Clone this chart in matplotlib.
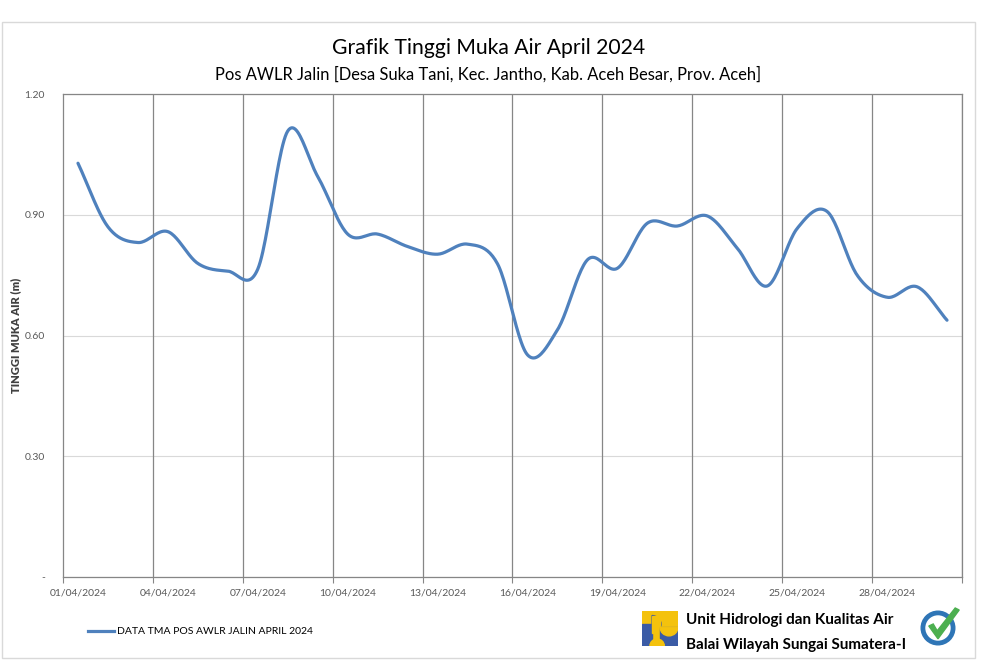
import numpy as np
import matplotlib
matplotlib.use("Agg")
import matplotlib.pyplot as plt
from matplotlib.patches import Rectangle, Circle, Wedge, Polygon
from matplotlib.lines import Line2D

# ---- data ----
dates = [f"{d:02d}/04/2024" for d in range(1, 31)]
tma = [1.028, 0.870, 0.831, 0.858, 0.779, 0.760, 0.765, 1.108, 0.995, 0.852,
       0.852, 0.821, 0.802, 0.827, 0.778, 0.552, 0.614, 0.788, 0.767, 0.879,
       0.872, 0.897, 0.817, 0.723, 0.866, 0.908, 0.750, 0.695, 0.721, 0.638]
yticks = [0.0, 0.30, 0.60, 0.90, 1.20]
ytick_labels = ["-", "0.30", "0.60", "0.90", "1.20"]
title = "Grafik Tinggi Muka Air April 2024"
subtitle = "Pos AWLR Jalin [Desa Suka Tani, Kec. Jantho, Kab. Aceh Besar, Prov. Aceh]"
ylabel = "TINGGI MUKA AIR (m)"
legend_label = "DATA TMA POS AWLR JALIN APRIL 2024"
org1 = "Unit Hidrologi dan Kualitas Air"
org2 = "Balai Wilayah Sungai Sumatera-I"

FONT = ["Lato", "DejaVu Sans"]
plt.rcParams['font.family'] = FONT

W, H = 984, 660
fig = plt.figure(figsize=(W / 100, H / 100), dpi=100)

def fx(px):
    return px / W

def fy(py):
    return 1 - py / H

# outer chart border
fig.patches.append(Rectangle((fx(2), fy(658)), fx(973), 636 / H, transform=fig.transFigure,
                             fill=False, edgecolor="#D9D9D9", linewidth=1))

ax = fig.add_axes([fx(63), fy(577), fx(899), 483 / H])

# Catmull-Rom smoothing (Excel-like smoothed line)
def catmull_rom(x, y, n=24):
    x = np.asarray(x, float); y = np.asarray(y, float)
    px = np.concatenate([[2 * x[0] - x[1]], x, [2 * x[-1] - x[-2]]])
    py = np.concatenate([[2 * y[0] - y[1]], y, [2 * y[-1] - y[-2]]])
    xs, ys = [], []
    t = np.linspace(0, 1, n, endpoint=False)
    for i in range(1, len(px) - 2):
        p0, p1, p2, p3 = py[i - 1], py[i], py[i + 1], py[i + 2]
        q0, q1, q2, q3 = px[i - 1], px[i], px[i + 1], px[i + 2]
        def cr(a0, a1, a2, a3):
            return 0.5 * ((2 * a1) + (-a0 + a2) * t + (2 * a0 - 5 * a1 + 4 * a2 - a3) * t ** 2
                          + (-a0 + 3 * a1 - 3 * a2 + a3) * t ** 3)
        xs.append(cr(q0, q1, q2, q3)); ys.append(cr(p0, p1, p2, p3))
    xs.append([x[-1]]); ys.append([y[-1]])
    return np.concatenate(xs), np.concatenate(ys)

xi = np.arange(len(tma))
sx, sy = catmull_rom(xi, tma)
ax.plot(sx, sy, color="#4F81BD", linewidth=2.3, solid_capstyle="round", zorder=3)

ax.set_xlim(-0.5, len(tma) - 0.5)
ax.set_ylim(0, 1.2)

# horizontal gridlines
ax.set_yticks(yticks)
ax.set_yticklabels(ytick_labels, fontsize=7.5, color="#595959")
ax.yaxis.grid(True, color="#D9D9D9", linewidth=0.8)
ax.tick_params(axis="y", length=0, pad=13)

# category labels every 3 days, centred on category
ax.set_xticks(xi[::3])
ax.set_xticklabels([dates[i] for i in xi[::3]], fontsize=7.5, color="#595959")
ax.tick_params(axis="x", which="major", length=0, pad=8)
# vertical gridlines at category boundaries
bounds = np.arange(-0.5, len(tma), 3)
ax.set_xticks(bounds, minor=True)
ax.tick_params(axis="x", which="minor", length=4, color="#868686", width=0.8)
for b in bounds[1:]:
    ax.axvline(b, color="#868686", linewidth=0.9, zorder=1)
ax.set_axisbelow(True)
for s in ax.spines.values():
    s.set_color("#868686")
    s.set_linewidth(0.9)

ax.set_ylabel(ylabel, fontsize=8, fontweight="heavy", color="#404040")
ax.yaxis.set_label_coords((21 - 63) / 899, 0.5)

fig.text(0.496, fy(48), title, ha="center", va="center", fontsize=15.2, color="#000000")
fig.text(0.496, fy(74), subtitle, ha="center", va="center", fontsize=11.9, color="#000000")

# legend
fig.add_artist(Line2D([fx(88), fx(114)], [fy(631), fy(631)], color="#4F81BD", linewidth=2.3,
                      transform=fig.transFigure))
fig.text(fx(117), fy(631), legend_label, ha="left", va="center", fontsize=7.5, color="#000000")

# organisation logo (approximation)
lax = fig.add_axes([fx(642), fy(646), fx(36), 35 / H])
lax.set_xlim(0, 1); lax.set_ylim(0, 1); lax.axis("off")
lax.add_patch(Rectangle((0, 0), 1, 1, color="#F4C20D"))
lax.add_patch(Rectangle((0, 0), 0.28, 0.62, color="#3B5BA5"))
lax.add_patch(Rectangle((0, 0), 1, 0.12, color="#3B5BA5"))
lax.add_patch(Wedge((0.28, 0.62), 0.25, 270, 90, color="#3B5BA5"))
lax.add_patch(Rectangle((0.28, 0.37), 0.22, 0.5, color="#F4C20D"))
lax.add_patch(Rectangle((0.5, 0.12), 0.5, 0.42, color="#3B5BA5"))
lax.add_patch(Wedge((0.75, 0.54), 0.25, 180, 360, color="#F4C20D"))
lax.add_patch(Wedge((0.42, 0.0), 0.2, 0, 180, color="#F4C20D"))

fig.text(fx(686), fy(620), org1, ha="left", va="center", fontsize=11, fontweight="bold", color="#000000")
fig.text(fx(686), fy(645), org2, ha="left", va="center", fontsize=11, fontweight="bold", color="#000000")

# ISO badge (approximation)
bax = fig.add_axes([fx(920), fy(646), fx(40), 40 / H])
bax.set_xlim(0, 1); bax.set_ylim(0, 1); bax.set_aspect("equal"); bax.axis("off")
bax.add_patch(Circle((0.45, 0.45), 0.42, color="#2E75B6"))
bax.add_patch(Circle((0.45, 0.45), 0.30, color="white"))
bax.add_patch(Polygon([[0.22, 0.5], [0.33, 0.55], [0.43, 0.38], [0.88, 0.95], [0.98, 0.9], [0.45, 0.18]],
                      closed=True, color="#4CAF50"))

fig.savefig("out.png", dpi=100)
